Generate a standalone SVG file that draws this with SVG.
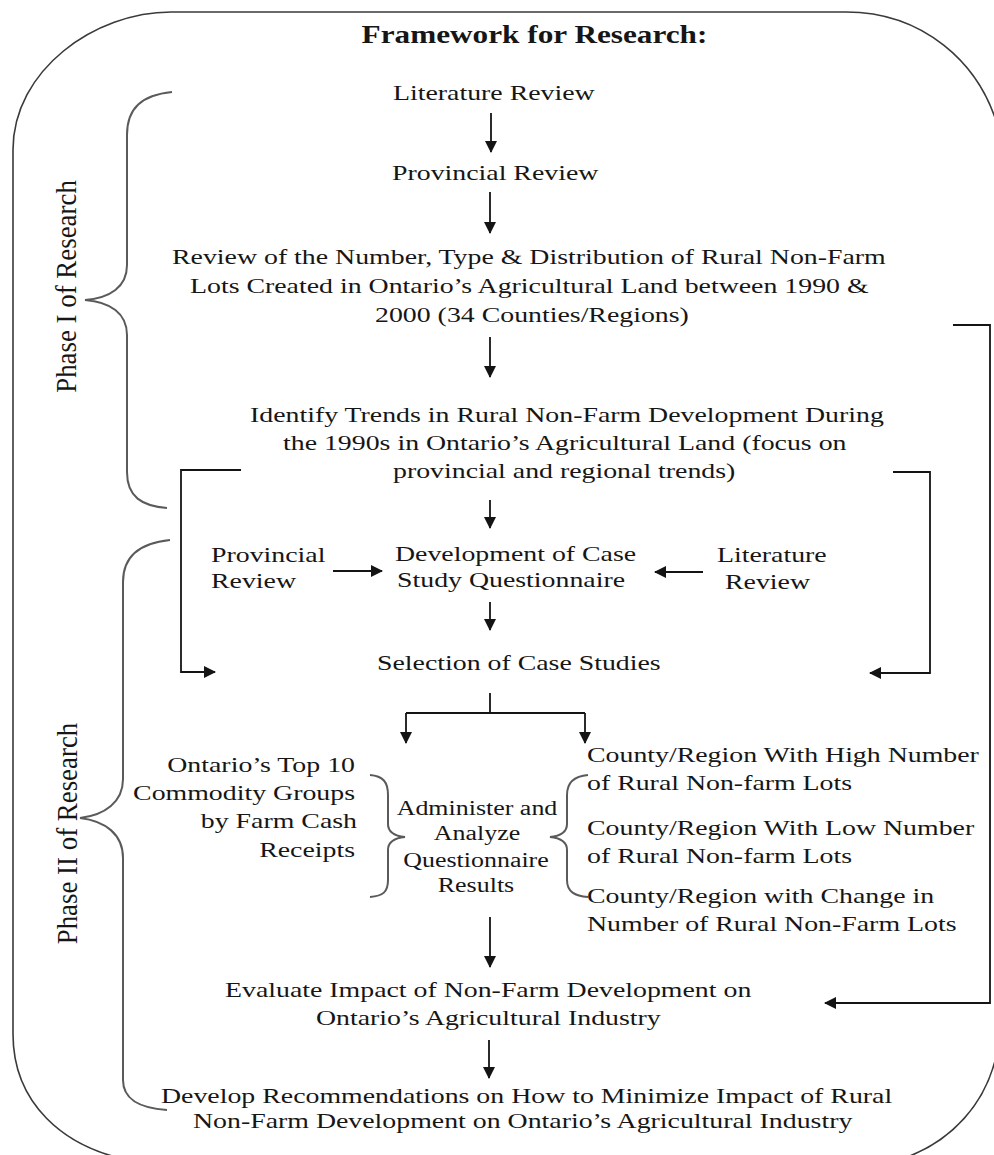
<svg xmlns="http://www.w3.org/2000/svg" width="994" height="1155" viewBox="0 0 994 1155">
<defs>
<style>
.t{font-family:"Liberation Serif","Times New Roman",serif;font-size:22px;fill:#161616}
.s{font-family:"Liberation Serif","Times New Roman",serif;font-size:20.5px;fill:#161616}
.b{font-family:"Liberation Serif","Times New Roman",serif;font-size:25px;font-weight:bold;fill:#161616}
.m{text-anchor:middle}
.e{text-anchor:end}
.c{fill:none;stroke:#141414;stroke-width:1.8}
.a{fill:none;stroke:#141414;stroke-width:1.8;marker-end:url(#ah)}
.br{fill:none;stroke:#5a5a5a;stroke-width:2}
.outer{fill:none;stroke:#3a3a3a;stroke-width:1.6}
</style>
<marker id="ah" viewBox="0 0 12 12" refX="11" refY="6" markerWidth="12" markerHeight="12" markerUnits="userSpaceOnUse" orient="auto">
<path d="M0,0 L12,6 L0,12 z" fill="#141414"/>
</marker>
</defs>
<rect width="994" height="1155" fill="#ffffff"/>

<g id="frame">
<path class="outer" d="M171,12 L846,12 C920,12 982,60 1000,135"/>
<path class="outer" d="M171,12 C95,12 13,70 13,150 L13,1034 C13,1100 60,1150 140,1162"/>
<path class="outer" d="M1000,1030 C995,1100 950,1150 880,1165"/>
</g>

<g id="title">
<text class="b m" transform="translate(534.5,43) scale(1.25,1)">Framework for Research:</text>
</g>

<g id="phase1">
<path class="br" d="M172,92 C142,95 127,108 127,135 L127,265 C127,287 110,298 85,300 C110,302 127,313 127,335 L127,472 C127,497 142,506 167,508"/>
<text class="t m" transform="translate(76,286.5) rotate(-90) scale(1.12,1.25)" style="font-size:24px">Phase I of Research</text>
</g>

<g id="phase2">
<path class="br" d="M170,540 C140,543 123,556 123,582 L123,779 C123,802 105,815 80,818 C105,821 123,834 123,858 L123,1080 C123,1100 140,1108 167,1110"/>
<text class="t m" transform="translate(77,833.5) rotate(-90) scale(1.12,1.25)" style="font-size:24px">Phase II of Research</text>
</g>

<g id="n-litreview">
<text class="t" transform="translate(393,100) scale(1.266,1)">Literature Review</text>
</g>
<g id="n-provreview">
<text class="t" transform="translate(392,180) scale(1.266,1)">Provincial Review</text>
</g>
<g id="n-reviewnumber">
<text class="t" transform="translate(172,264) scale(1.266,1)">Review of the Number, Type &amp; Distribution of Rural Non-Farm</text>
<text class="t" transform="translate(190,293) scale(1.266,1)">Lots Created in Ontario’s Agricultural Land between 1990 &amp;</text>
<text class="t" transform="translate(375,322) scale(1.266,1)">2000 (34 Counties/Regions)</text>
</g>
<g id="n-trends">
<text class="t" transform="translate(250,422) scale(1.266,1)">Identify Trends in Rural Non-Farm Development During</text>
<text class="t" transform="translate(283,450) scale(1.266,1)">the 1990s in Ontario’s Agricultural Land (focus on</text>
<text class="t" transform="translate(393,478) scale(1.266,1)">provincial and regional trends)</text>
</g>
<g id="n-provreview2">
<text class="t" transform="translate(211,562) scale(1.266,1)">Provincial</text>
<text class="t" transform="translate(211,588) scale(1.266,1)">Review</text>
</g>
<g id="n-questionnaire">
<text class="t" transform="translate(395,561) scale(1.266,1)">Development of Case</text>
<text class="t" transform="translate(397,587) scale(1.266,1)">Study Questionnaire</text>
</g>
<g id="n-litreview2">
<text class="t" transform="translate(717,562) scale(1.266,1)">Literature</text>
<text class="t" transform="translate(725,589) scale(1.266,1)">Review</text>
</g>
<g id="n-selection">
<text class="t" transform="translate(377,670) scale(1.266,1)">Selection of Case Studies</text>
</g>
<g id="n-commodity">
<text class="t e" transform="translate(355,772) scale(1.266,1)">Ontario’s Top 10</text>
<text class="t e" transform="translate(355,800) scale(1.266,1)">Commodity Groups</text>
<text class="t e" transform="translate(357,828) scale(1.266,1)">by Farm Cash</text>
<text class="t e" transform="translate(355,857) scale(1.266,1)">Receipts</text>
<path class="br" d="M370,775 C383,776 388,782 388,795 L388,824 C388,832 395,836 405,837 C395,838 388,842 388,850 L388,880 C388,892 383,896 370,897"/>
</g>
<g id="n-administer">
<text class="s m" transform="translate(477,815) scale(1.266,1)">Administer and</text>
<text class="s m" transform="translate(477,840) scale(1.266,1)">Analyze</text>
<text class="s m" transform="translate(476,867) scale(1.266,1)">Questionnaire</text>
<text class="s m" transform="translate(476,892) scale(1.266,1)">Results</text>
</g>
<g id="n-counties">
<path class="br" d="M588,775 C575,776 567,782 567,795 L567,824 C567,832 560,836 550,837 C560,838 567,842 567,850 L567,880 C567,892 575,896 588,897"/>
<text class="t" transform="translate(587,762) scale(1.266,1)">County/Region With High Number</text>
<text class="t" transform="translate(587,790) scale(1.266,1)">of Rural Non-farm Lots</text>
<text class="t" transform="translate(587,835) scale(1.266,1)">County/Region With Low Number</text>
<text class="t" transform="translate(587,863) scale(1.266,1)">of Rural Non-farm Lots</text>
<text class="t" transform="translate(587,903) scale(1.266,1)">County/Region with Change in</text>
<text class="t" transform="translate(587,931) scale(1.266,1)">Number of Rural Non-Farm Lots</text>
</g>
<g id="n-evaluate">
<text class="t" transform="translate(225,997) scale(1.266,1)">Evaluate Impact of Non-Farm Development on</text>
<text class="t" transform="translate(316,1025) scale(1.266,1)">Ontario’s Agricultural Industry</text>
</g>
<g id="n-recommend">
<text class="t" transform="translate(161,1103) scale(1.266,1)">Develop Recommendations on How to Minimize Impact of Rural</text>
<text class="t" transform="translate(193,1128) scale(1.266,1)">Non-Farm Development on Ontario’s Agricultural Industry</text>
</g>

<g id="connectors">
<path class="a" d="M491,113 L491,152"/>
<path class="a" d="M490,192 L490,233"/>
<path class="a" d="M490,337 L490,377"/>
<path class="a" d="M490,500 L490,528"/>
<path class="a" d="M490,602 L490,630"/>
<path class="c" d="M490,693 L490,713 M406,713 L585,713"/>
<path class="a" d="M406,713 L406,743"/>
<path class="a" d="M585,713 L585,743"/>
<path class="a" d="M490,917 L490,967"/>
<path class="a" d="M489,1040 L489,1078"/>
<path class="a" d="M333,571 L382,571"/>
<path class="a" d="M703,572 L655,572"/>
<path class="a" d="M241,470 L181,470 L181,672 L215,672"/>
<path class="a" d="M893,472 L930,472 L930,673 L870,673"/>
<path class="a" d="M953,325 L990,325 L990,1003 L825,1003"/>
</g>
</svg>
